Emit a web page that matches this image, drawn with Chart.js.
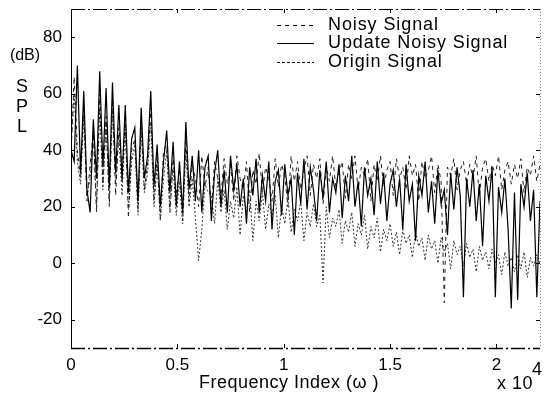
<!DOCTYPE html>
<html>
<head>
<meta charset="utf-8">
<script src="https://cdn.jsdelivr.net/npm/chart.js@4.4.0/dist/chart.umd.min.js"></script>
<style>
  html, body { margin: 0; padding: 0; background: #fff; }
  #wrap { width: 559px; height: 396px; }
</style>
</head>
<body>
<div id="wrap"><canvas id="grafica"></canvas></div>
<script>
// frequency index step between samples
var paso = 150;

var xTicks = [0, 5000, 10000, 15000, 20000];
var xTickLabels = ['0', '0.5', '1', '1.5', '2'];
var yTicks = [-20, 0, 20, 40, 60, 80];

// Noisy Signal (dB)
var noisy = [
  38, 66, 40, 30, 55, 22, 35, 46, 18, 60,
  28, 52, 20, 58, 24, 48, 33, 50, 16, 40,
  44, 19, 50, 26, 35, 55, 22, 38, 16, 40,
  42, 18, 37, 25, 33, 15, 44, 22, 35, 30,
  20, 38, 27, 34, 19, 36, 30, 24, 37, 28,
  35, 22, 38, 30, 26, 36, 18, 33, 28, 39,
  25, 34, 30, 22, 37, 27, 35, 31, 20, 38,
  29, 36, 26, 33, 38, 24, 35, 30, 37, 21,
  34, 29, 38, 27, 32, 36, 23, 35, 30, 38,
  26, 34, 31, 37, 22, 35, 29, 38, 27, 33,
  36, 24, 37, 30, 34, 26, 38, 31, 35, 22,
  36, 30, 33, 38, 25, 35, 29, -14, 34, 31,
  37, 26, 33, 36, 28, 35, 30, 38, 24, 34,
  37, 29, 35, 31, 38, 26, 33, 36, 28, 35,
  30, 37, 25, 34, 31, 38, 29, 35
];

// Update Noisy Signal (dB)
var updateNoisy = [
  40, 36, 70, 32, 61, 26, 18, 51, 30, 68,
  34, 62, 27, 64, 32, 56, 29, 56, 25, 44,
  48, 22, 55, 30, 38, 61, 27, 42, 20, 36,
  47, 25, 43, 20, 36, 18, 50, 26, 38, 22,
  40, 18, 34, 38, 15, 32, 40, 20, 33, 18,
  38, 26, 35, 20, 30, 14, 34, 24, 37, 18,
  31, 22, 36, 12, 29, 33, 17, 35, 24, 30,
  10, 32, 21, 37, 19, 34, 26, 15, 33, 23,
  36, 18, 30, 25, 35, 16, 31, 22, 38, 20,
  29, 13, 34, 24, 30, 17, 36, 21, 32, 15,
  28, 33, 20, 30, 12, 35, 22, 28, 8, 31,
  24, 36, 18, 29, 14, 33, 21, 26, 10, 32,
  19, 34, 24, -12, 30, 20, 33, 15, 28, 6,
  31, 22, 34, -12, 27, 18, 30, 12, -16, 25,
  -13, 28, 20, 32, 15, 26, -12, 22
];

// Origin Signal (dB)
var origin = [
  42, 60, 36, 28, 52, 24, 30, 48, 20, 55,
  26, 50, 22, 54, 28, 45, 24, 48, 19, 36,
  42, 17, 47, 25, 32, 50, 20, 35, 15, 30,
  40, 19, 34, 17, 29, 14, 40, 20, 30, 16,
  1, 12, 28, 25, 24, 14, 30, 18, 26, 12,
  22, 16, 27, 10, 24, 18, 26, 8, 22, 15,
  25, 12, 21, 17, 24, 9, 20, 14, 23, 11,
  19, 15, 22, 8, 18, 13, 21, 13, 17, -7,
  20, 9, 16, 13, 19, 7, 15, 11, 18, 6,
  14, 10, 17, 5, 13, 9, 16, 4, 12, 8,
  14, 6, 11, 3, 12, 7, 10, 2, 11, 6,
  9, 1, 10, 5, 8, 0, 9, 4, 7, -2,
  8, 3, 6, -1, 7, 2, 5, -3, 6, 1,
  4, -2, 5, 0, 3, -4, 4, -1, 2, -3,
  3, -2, 4, -5, 2, -1, 3, 0
];

function puntos(serie) {
  return serie.map(function(v, i) { return {x: i * paso, y: v}; });
}

var fuente = '"Liberation Sans", Arial, sans-serif';

var marco = {
  id: 'marco',
  beforeDraw: function(chart) {
    var ctx = chart.ctx;
    ctx.save();
    ctx.fillStyle = '#fff';
    ctx.fillRect(0, 0, chart.width, chart.height);
    ctx.restore();
  },
  afterDraw: function(chart) {
    var ctx = chart.ctx;
    var a = chart.chartArea;
    var sx = chart.scales.x, sy = chart.scales.y;
    ctx.save();
    ctx.strokeStyle = '#000';
    ctx.lineWidth = 1;

    // left axis
    ctx.beginPath();
    ctx.moveTo(a.left + 0.5, a.top);
    ctx.lineTo(a.left + 0.5, a.bottom);
    ctx.stroke();
    // bottom + top dash-dot
    ctx.setLineDash([14, 3, 2, 3]);
    ctx.lineWidth = 1.5;
    ctx.beginPath();
    ctx.moveTo(a.left, a.bottom + 0.5);
    ctx.lineTo(a.right, a.bottom + 0.5);
    ctx.stroke();
    ctx.lineWidth = 1;
    ctx.beginPath();
    ctx.moveTo(a.left, a.top + 0.5);
    ctx.lineTo(a.right, a.top + 0.5);
    ctx.stroke();
    // right dotted
    ctx.setLineDash([1, 2]);
    ctx.strokeStyle = '#888';
    ctx.beginPath();
    ctx.moveTo(a.right + 0.5, a.top);
    ctx.lineTo(a.right + 0.5, a.bottom);
    ctx.stroke();
    ctx.setLineDash([]);
    ctx.strokeStyle = '#000';

    // inward ticks
    ctx.beginPath();
    yTicks.forEach(function(v) {
      var py = Math.round(sy.getPixelForValue(v)) + 0.5;
      ctx.moveTo(a.left, py); ctx.lineTo(a.left + 4, py);
      ctx.moveTo(a.right, py); ctx.lineTo(a.right - 4, py);
    });
    xTicks.forEach(function(v) {
      var px = Math.round(sx.getPixelForValue(v)) + 0.5;
      ctx.moveTo(px, a.bottom); ctx.lineTo(px, a.bottom - 4);
      ctx.moveTo(px, a.top); ctx.lineTo(px, a.top + 4);
    });
    ctx.stroke();

    // axis titles
    ctx.fillStyle = '#000';
    ctx.textBaseline = 'middle';
    ctx.textAlign = 'center';
    ctx.font = '16px ' + fuente;
    ctx.fillText('(dB)', 25, 56);
    ctx.font = '18px ' + fuente;
    ctx.fillText('S', 22, 87);
    ctx.fillText('P', 22, 107);
    ctx.fillText('L', 22, 127);
    ctx.letterSpacing = '0.5px';
    ctx.fillText('Frequency Index (\u03c9 )', 289, 383);
    ctx.textAlign = 'left';
    ctx.fillText('x 10', 497, 384);
    ctx.fillText('4', 532, 370);

    // legend
    var filas = [
      {t: 'Noisy Signal', dash: [4, 4], y: 25},
      {t: 'Update Noisy Signal', dash: [], y: 43},
      {t: 'Origin Signal', dash: [3, 2], y: 62}
    ];
    ctx.font = '18px ' + fuente;
    ctx.letterSpacing = '0.9px';
    filas.forEach(function(f) {
      ctx.setLineDash(f.dash);
      ctx.beginPath();
      ctx.moveTo(277, f.y + 0.5);
      ctx.lineTo(314, f.y + 0.5);
      ctx.stroke();
      ctx.fillText(f.t, 328, f.y);
    });
    ctx.restore();
  }
};

var ctx = document.getElementById('grafica').getContext('2d');
var chart = new Chart(ctx, {
  type: 'line',
  data: {
    datasets: [{
      label: 'Update Noisy Signal',
      data: puntos(updateNoisy),
      borderColor: '#000',
      borderWidth: 1.2,
      pointRadius: 0,
      tension: 0
    }, {
      label: 'Noisy Signal',
      data: puntos(noisy),
      borderColor: '#222',
      borderWidth: 1,
      borderDash: [4, 4],
      pointRadius: 0,
      tension: 0
    }, {
      label: 'Origin Signal',
      data: puntos(origin),
      borderColor: '#333',
      borderWidth: 1,
      borderDash: [2, 2],
      pointRadius: 0,
      tension: 0
    }]
  },
  options: {
    responsive: true,
    maintainAspectRatio: false,
    animation: false,
    layout: { padding: { top: 9, right: 19, left: 0, bottom: 0 } },
    plugins: {
      legend: { display: false },
      tooltip: { enabled: false }
    },
    scales: {
      x: {
        type: 'linear',
        min: 0,
        max: 22050,
        border: { display: false },
        grid: { display: false, drawTicks: false },
        afterBuildTicks: function(axis) {
          axis.ticks = xTicks.map(function(v) { return {value: v}; });
        },
        afterFit: function(axis) {
          axis.height = 48;
          axis.paddingLeft = 0;
          axis.paddingRight = 0;
        },
        ticks: {
          padding: 7,
          maxRotation: 0,
          color: '#000',
          font: { family: fuente, size: 17 },
          callback: function(v) { return xTickLabels[xTicks.indexOf(v)]; }
        }
      },
      y: {
        min: -30,
        max: 90,
        border: { display: false },
        grid: { display: false, drawTicks: false },
        afterBuildTicks: function(axis) {
          axis.ticks = yTicks.map(function(v) { return {value: v}; });
        },
        afterFit: function(axis) {
          axis.width = 71;
          axis.paddingTop = 0;
          axis.paddingBottom = 0;
        },
        ticks: {
          padding: 9,
          color: '#000',
          font: { family: fuente, size: 17 }
        }
      }
    }
  },
  plugins: [marco]
});
</script>
</body>
</html>
